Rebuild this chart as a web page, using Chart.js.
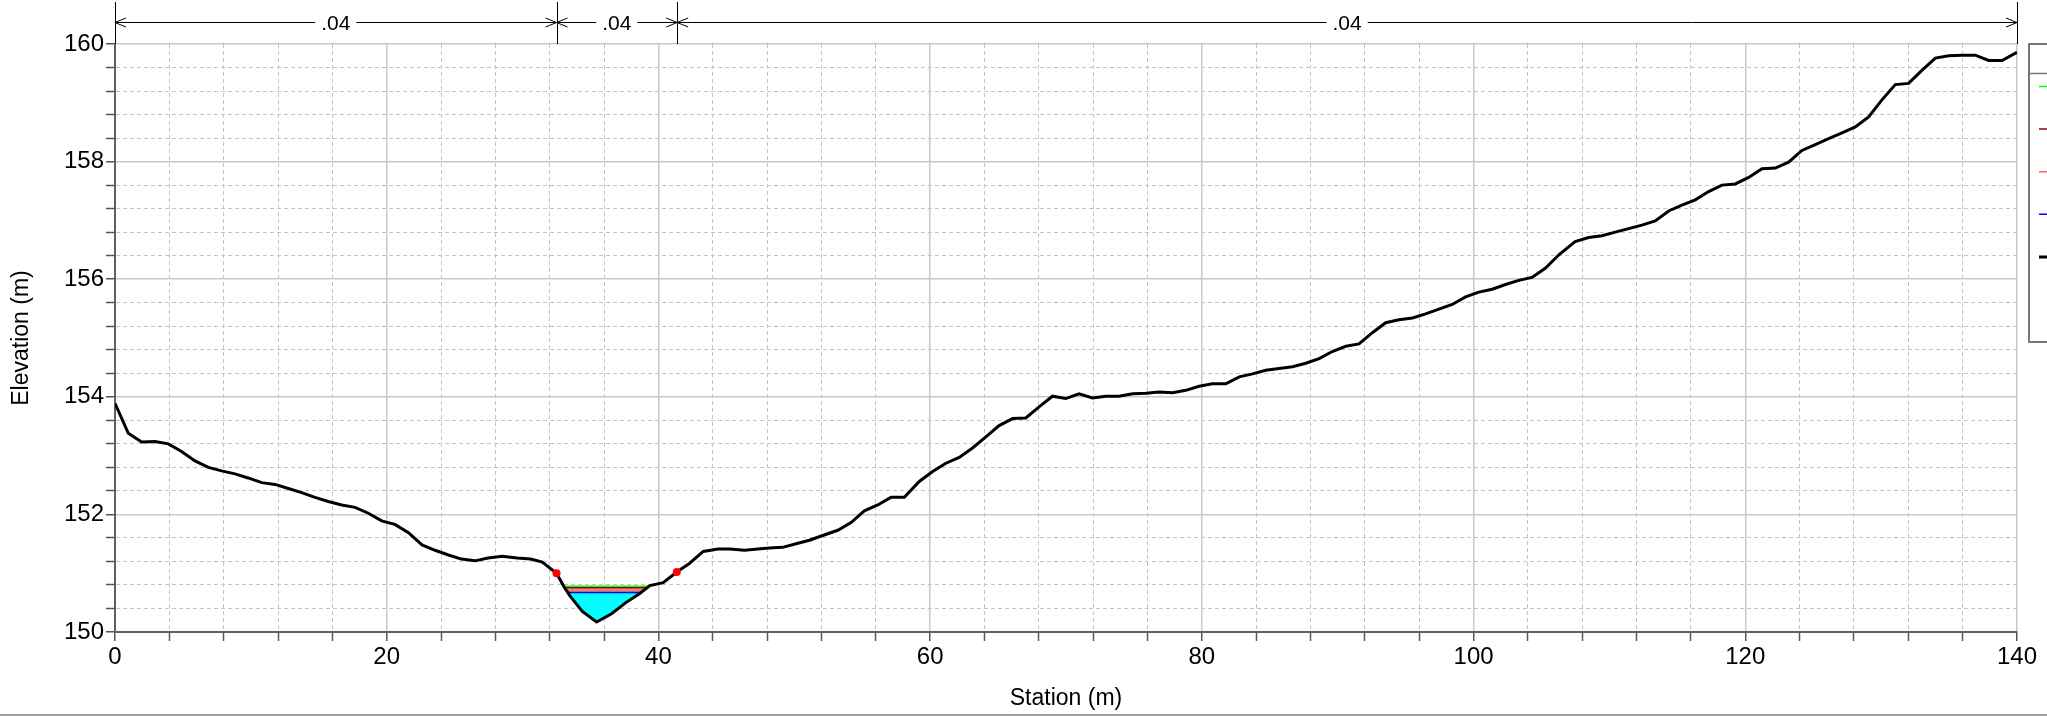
<!DOCTYPE html>
<html><head><meta charset="utf-8">
<script src="https://cdn.jsdelivr.net/npm/chart.js@4.4.1/dist/chart.umd.min.js"></script>
<style>html,body{margin:0;padding:0;background:#fff;overflow:hidden}#wrap{position:relative;width:2047px;height:716px}</style>
</head><body><div id="wrap"><canvas id="c" width="2047" height="716"></canvas></div>
<script>
// Ground profile (station m, elevation m)
const stations = [0, 0.98, 1.96, 2.94, 3.93, 4.9, 5.89, 6.87, 7.85, 8.83, 9.8, 10.8, 11.78, 12.76, 13.74, 14.72, 15.7, 16.69, 17.67, 18.65, 19.63, 20.6, 21.6, 22.6, 23.56, 24.54, 25.5, 26.5,
  27.46, 28.5, 29.6, 30.6, 31.45, 32.5, 33.05, 33.5, 34.4, 35.45, 36.55, 37.6, 38.6, 39.37, 40.35, 41.35, 42.3, 43.3, 44.4, 45.25,
  46.33, 47.31, 48.17, 49.15, 50.13, 51.11, 52.2, 53.2, 54.18, 55.16, 56.14, 57.12, 58.1, 59.2, 60.18, 61.16, 62.14, 63.12, 64.1, 65.08, 66.06, 67.04, 68.02, 69.0, 69.98, 70.96, 71.95, 72.93, 73.9,
  74.9, 75.88, 76.86, 77.84, 78.82, 79.8, 80.78, 81.76, 82.75, 83.73, 84.7, 85.69, 86.67, 87.65, 88.63, 89.6, 90.59, 91.57, 92.55, 93.53, 94.51, 95.5, 96.47, 97.45, 98.43, 99.41, 100.39, 101.37, 102.35, 103.33, 104.3, 105.3, 106.3,
  107.48, 108.47, 109.45, 110.43, 111.41, 112.39, 113.37, 114.36, 115.34, 116.32, 117.3, 118.28, 119.26, 120.25, 121.23, 122.21, 123.19, 124.17, 125.15, 126.13, 127.12, 128.1, 129.08, 130.06, 131.04, 132.02, 133.0, 133.99, 134.97, 135.95, 136.93, 137.91, 138.9, 140];
const elevations = [153.89, 153.38, 153.23, 153.24, 153.20, 153.07, 152.91, 152.80, 152.74, 152.69, 152.62, 152.54, 152.51, 152.44, 152.37, 152.29, 152.22, 152.16, 152.12, 152.02, 151.89, 151.83, 151.69, 151.48, 151.39, 151.31, 151.24, 151.21,
  151.26, 151.29, 151.26, 151.24, 151.19, 151.0, 150.77, 150.61, 150.35, 150.17, 150.31, 150.5, 150.65, 150.79, 150.84, 151.02, 151.17, 151.37, 151.41, 151.41,
  151.39, 151.41, 151.43, 151.44, 151.50, 151.56, 151.65, 151.73, 151.86, 152.06, 152.16, 152.29, 152.29, 152.56, 152.73, 152.87, 152.97, 153.13, 153.32, 153.51, 153.63, 153.64, 153.83, 154.01, 153.97, 154.05, 153.98, 154.01, 154.01,
  154.05, 154.06, 154.08, 154.07, 154.11, 154.18, 154.22, 154.22, 154.34, 154.39, 154.45, 154.48, 154.51, 154.57, 154.65, 154.77, 154.86, 154.90, 155.09, 155.26, 155.31, 155.34, 155.41, 155.49, 155.57, 155.70, 155.78, 155.83, 155.91, 155.98, 156.03, 156.19, 156.42,
  156.64, 156.71, 156.74, 156.80, 156.86, 156.92, 156.99, 157.16, 157.26, 157.35, 157.49, 157.60, 157.62, 157.73, 157.88, 157.89, 157.99, 158.19, 158.29, 158.39, 158.49, 158.59, 158.76, 159.05, 159.31, 159.33, 159.55, 159.76, 159.80, 159.81, 159.81, 159.72, 159.72, 159.86];
// Bank stations
const bankStations = [32.5, 41.35];
const bankElevations = [151.0, 151.02];
// Water surface / energy levels (m)
const levelNames = ['EG PF 1', 'WS PF 2', 'WS PF 3', 'WS PF 1'];
const levelValues = [150.78, 150.755, 150.74, 150.67];
// Manning's n segments
const nValues = ['.04', '.04', '.04'];
const nBreaks = [0, 32.5, 41.38, 140];
// Axis tick labels
const xTickLabels = [0, 20, 40, 60, 80, 100, 120, 140];
const yTickLabels = [150, 152, 154, 156, 158, 160];

const FONT = '"Liberation Sans", Arial, Helvetica, sans-serif';
const groundData = stations.map((s, i) => ({x: s, y: elevations[i]}));

function wetPoints(level) {
  let iMin = 0;
  for (let i = 1; i < elevations.length; i++) if (elevations[i] < elevations[iMin]) iMin = i;
  let l = iMin; while (l > 0 && elevations[l - 1] < level) l--;
  let r = iMin; while (r < elevations.length - 1 && elevations[r + 1] < level) r++;
  const cross = (a, b) => stations[a] + (level - elevations[a]) * (stations[b] - stations[a]) / (elevations[b] - elevations[a]);
  const pts = [{x: cross(l - 1, l), y: level}];
  for (let k = l; k <= r; k++) pts.push({x: stations[k], y: elevations[k]});
  pts.push({x: cross(r, r + 1), y: level});
  return pts;
}
const wsLine = lv => { const p = wetPoints(lv); return [p[0], p[p.length - 1]]; };

const isMajorX = v => Math.abs(v / 20 - Math.round(v / 20)) < 1e-6;
const isMajorY = v => Math.abs(v / 2 - Math.round(v / 2)) < 1e-6;

const lineColors = ['#00ff00', '#8b0000', '#ff6060', '#0000ff'];

const datasets = [
  {label: 'Bank Sta', data: bankStations.map((s, i) => ({x: s, y: bankElevations[i]})), showLine: false,
   pointRadius: 4, pointBackgroundColor: '#ff0000', pointBorderWidth: 0, order: 0},
  {label: 'Ground', data: groundData, borderColor: '#000', borderWidth: 3, pointRadius: 0, order: 1, tension: 0},
  {label: levelNames[0], data: wsLine(levelValues[0]), borderColor: lineColors[0], borderWidth: 1.5, pointRadius: 0, order: 2},
  {label: levelNames[1], data: wsLine(levelValues[1]), borderColor: lineColors[1], borderWidth: 1.2, pointRadius: 0, order: 3},
  {label: levelNames[3], data: wsLine(levelValues[3]), borderColor: lineColors[3], borderWidth: 1.5, pointRadius: 0, order: 4},
  {label: levelNames[2], data: wsLine(levelValues[2]), borderColor: lineColors[2], borderWidth: 1.2, pointRadius: 0, order: 5},
  {label: 'fill1', data: wetPoints(levelValues[3]), borderWidth: 0, pointRadius: 0, fill: {value: levelValues[3]}, backgroundColor: '#00ffff', order: 6},
  {label: 'fill2', data: wetPoints(levelValues[2]), borderWidth: 0, pointRadius: 0, fill: {value: levelValues[2]}, backgroundColor: '#f08080', order: 7}
];

const overlay = {
  id: 'overlay',
  afterDraw(chart) {
    const ctx = chart.ctx, xs = chart.scales.x, top = chart.chartArea.top;
    ctx.save();
    // Manning's n annotation
    const ay = 22.5;
    ctx.strokeStyle = '#000'; ctx.lineWidth = 1;
    ctx.font = '21px ' + FONT; ctx.fillStyle = '#000';
    ctx.textAlign = 'center'; ctx.textBaseline = 'middle';
    nBreaks.forEach(b => {
      const px = Math.round(xs.getPixelForValue(b)) + 0.5;
      ctx.beginPath(); ctx.moveTo(px, 2); ctx.lineTo(px, top); ctx.stroke();
    });
    for (let i = 0; i < nValues.length; i++) {
      const xa = xs.getPixelForValue(nBreaks[i]), xb = xs.getPixelForValue(nBreaks[i + 1]);
      const cx = (xa + xb) / 2, w = ctx.measureText(nValues[i]).width;
      ctx.beginPath();
      ctx.moveTo(xa, ay); ctx.lineTo(cx - w / 2 - 6, ay);
      ctx.moveTo(cx + w / 2 + 6, ay); ctx.lineTo(xb, ay);
      ctx.moveTo(xa + 11, ay - 4.5); ctx.lineTo(xa, ay); ctx.lineTo(xa + 11, ay + 4.5);
      ctx.moveTo(xb - 11, ay - 4.5); ctx.lineTo(xb, ay); ctx.lineTo(xb - 11, ay + 4.5);
      ctx.stroke();
      ctx.fillText(nValues[i], cx, ay + 2);
    }
    // Legend box (mostly outside the picture)
    const lx = 2029, ly = 44, lh = 298;
    ctx.fillStyle = '#fff'; ctx.fillRect(lx, ly, 200, lh);
    ctx.strokeStyle = '#777'; ctx.lineWidth = 2; ctx.strokeRect(lx, ly, 200, lh);
    ctx.beginPath(); ctx.moveTo(lx, 73.5); ctx.lineTo(lx + 200, 73.5); ctx.lineWidth = 1.5; ctx.stroke();
    const items = [[lineColors[0], 1.5], [lineColors[1], 1.5], [lineColors[2], 1.5], [lineColors[3], 1.5], ['#000', 3]];
    items.forEach((it, i) => {
      const y = 86.5 + i * 42.6;
      ctx.strokeStyle = it[0]; ctx.lineWidth = it[1];
      ctx.beginPath(); ctx.moveTo(2039, y); ctx.lineTo(2080, y); ctx.stroke();
    });
    // bottom separator
    ctx.fillStyle = '#a0a0a0'; ctx.fillRect(0, 714, 2047, 2);
    ctx.restore();
  }
};

new Chart(document.getElementById('c'), {
  type: 'line',
  data: {datasets},
  options: {
    responsive: false, animation: false, devicePixelRatio: 1,
    layout: {padding: {top: 44, right: 30, bottom: 0, left: 0}},
    plugins: {legend: {display: false}, tooltip: {enabled: false}},
    scales: {
      x: {
        type: 'linear', min: 0, max: 140,
        afterFit: s => { s.height = 84; },
        ticks: {stepSize: 4, autoSkip: false, maxRotation: 0, padding: 2, color: '#000',
          font: {family: FONT, size: 24},
          callback: v => xTickLabels.some(t => Math.abs(t - v) < 1e-6) ? String(Math.round(v)) : ''},
        grid: {color: c => (c.tick && isMajorX(c.tick.value)) ? '#c8c8c8' : '#c4c4c4',
               lineWidth: c => (c.tick && isMajorX(c.tick.value)) ? 1.5 : 1,
               tickColor: '#555', tickLength: 9, tickWidth: 1.5},
        border: {color: '#606060', width: 2, dash: c => (c.tick && !isMajorX(c.tick.value)) ? [4, 3] : []},
        title: {display: true, text: 'Station (m)', color: '#000', font: {family: FONT, size: 23}, padding: {top: 0, bottom: 4}}
      },
      y: {
        type: 'linear', min: 150, max: 160,
        afterFit: s => { s.width = 115; },
        ticks: {stepSize: 0.4, autoSkip: false, padding: 2, color: '#000',
          font: {family: FONT, size: 24},
          callback: v => yTickLabels.some(t => Math.abs(t - v) < 1e-6) ? String(Math.round(v)) : ''},
        grid: {color: c => (c.tick && isMajorY(c.tick.value)) ? '#c8c8c8' : '#c4c4c4',
               lineWidth: c => (c.tick && isMajorY(c.tick.value)) ? 1.5 : 1,
               tickColor: '#555', tickLength: 9, tickWidth: 1.5},
        border: {color: '#606060', width: 2, dash: c => (c.tick && !isMajorY(c.tick.value)) ? [4, 3] : []},
        title: {display: true, text: 'Elevation (m)', color: '#000', font: {family: FONT, size: 23}, padding: {top: 8, bottom: 0}}
      }
    }
  },
  plugins: [overlay]
});
</script></body></html>
